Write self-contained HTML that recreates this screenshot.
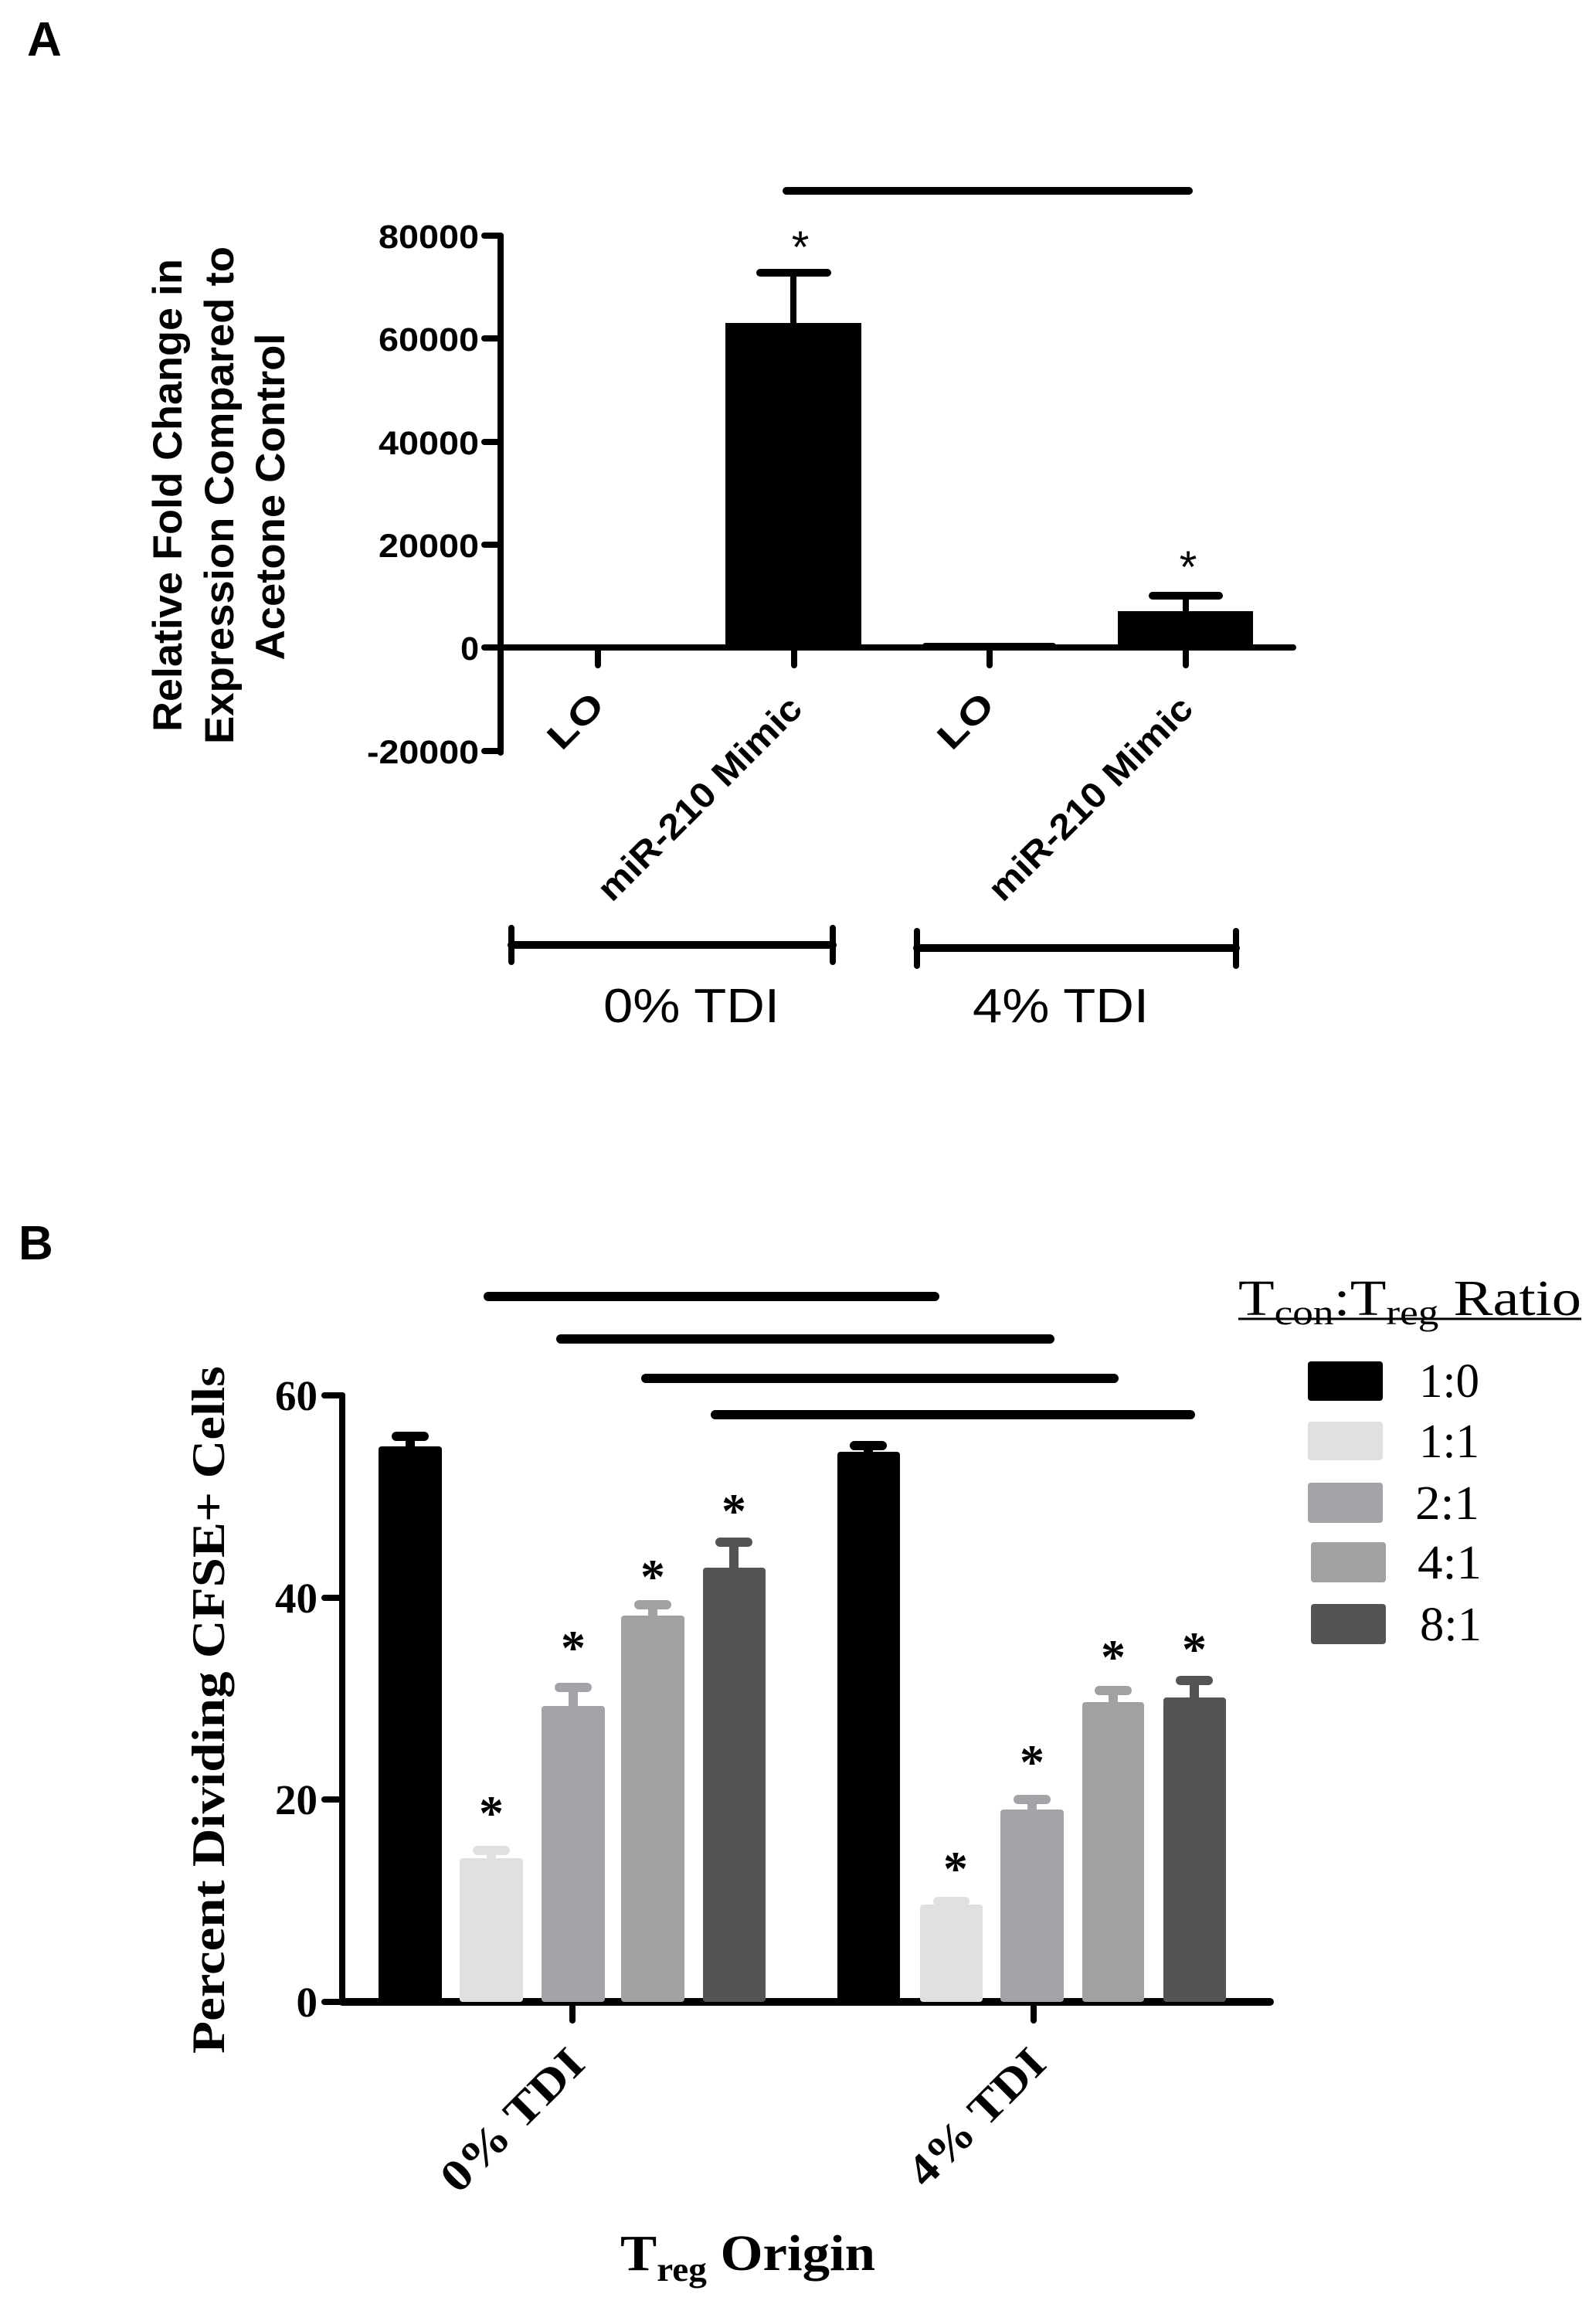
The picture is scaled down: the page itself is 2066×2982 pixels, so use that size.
<!DOCTYPE html>
<html><head><meta charset="utf-8"><style>
html,body{margin:0;padding:0;background:#fff;}
svg{display:block;}
.a{font-family:"Liberation Sans",Arial,sans-serif;font-weight:bold;}
.s{font-family:"Liberation Serif","Times New Roman",serif;}
</style></head><body>
<svg width="2066" height="2982" viewBox="0 0 2066 2982" xmlns="http://www.w3.org/2000/svg">
<rect width="2066" height="2982" fill="#fff"/>
<!-- Panel A -->
<text x="35" y="72" class="a" font-size="62">A</text>
<g class="a" font-size="53" text-anchor="middle">
<text transform="translate(235,641) rotate(-90)" textLength="612" lengthAdjust="spacingAndGlyphs">Relative Fold Change in</text>
<text transform="translate(302,641) rotate(-90)" textLength="644" lengthAdjust="spacingAndGlyphs">Expression Compared to</text>
<text transform="translate(368,643) rotate(-90)" textLength="423" lengthAdjust="spacingAndGlyphs">Acetone Control</text>
</g>
<g stroke="#000" stroke-width="8" fill="none" stroke-linecap="round">
<line x1="648" y1="305" x2="648" y2="974"/>
<line x1="627" y1="305" x2="648" y2="305"/>
<line x1="627" y1="438" x2="648" y2="438"/>
<line x1="627" y1="572" x2="648" y2="572"/>
<line x1="627" y1="705" x2="648" y2="705"/>
<line x1="627" y1="838" x2="648" y2="838"/>
<line x1="627" y1="972" x2="648" y2="972"/>
<line x1="648" y1="838" x2="1674" y2="838"/>
<line x1="774" y1="838" x2="774" y2="861"/>
<line x1="1028" y1="838" x2="1028" y2="861"/>
<line x1="1281" y1="838" x2="1281" y2="861"/>
<line x1="1535" y1="838" x2="1535" y2="861"/>
<line x1="1018" y1="247" x2="1539" y2="247" stroke-width="10"/>
<line x1="1027" y1="418" x2="1027" y2="355"/>
<line x1="984" y1="353" x2="1071" y2="353" stroke-width="10"/>
<line x1="1535" y1="791" x2="1535" y2="772"/>
<line x1="1492" y1="771" x2="1578" y2="771" stroke-width="10"/>
<line x1="662" y1="1223" x2="1078" y2="1223" stroke-width="10"/>
<line x1="662" y1="1201" x2="662" y2="1245"/>
<line x1="1078" y1="1201" x2="1078" y2="1245"/>
<line x1="1187" y1="1227" x2="1600" y2="1227" stroke-width="10"/>
<line x1="1187" y1="1205" x2="1187" y2="1250"/>
<line x1="1600" y1="1205" x2="1600" y2="1250"/>
</g>
<rect x="939" y="418" width="176" height="424" fill="#000"/>
<rect x="1194" y="832" width="173" height="10" rx="4" fill="#000"/>
<rect x="1447" y="791" width="175" height="51" fill="#000"/>
<g class="a" font-size="43" text-anchor="end">
<text x="620" y="321" textLength="130" lengthAdjust="spacingAndGlyphs">80000</text>
<text x="620" y="454" textLength="130" lengthAdjust="spacingAndGlyphs">60000</text>
<text x="620" y="588" textLength="130" lengthAdjust="spacingAndGlyphs">40000</text>
<text x="620" y="721" textLength="130" lengthAdjust="spacingAndGlyphs">20000</text>
<text x="620" y="854">0</text>
<text x="620" y="988" textLength="145" lengthAdjust="spacingAndGlyphs">-20000</text>
</g>
<g font-family="Liberation Sans, Arial, sans-serif" font-size="58" text-anchor="middle">
<text x="1036" y="340">*</text>
<text x="1538" y="754">*</text>
</g>
<g class="a" font-size="46" text-anchor="end">
<text transform="translate(785,915) rotate(-45)" textLength="82" lengthAdjust="spacingAndGlyphs">LO</text>
<text transform="translate(1041,920) rotate(-45)" textLength="352" lengthAdjust="spacingAndGlyphs">miR-210 Mimic</text>
<text transform="translate(1290,915) rotate(-45)" textLength="82" lengthAdjust="spacingAndGlyphs">LO</text>
<text transform="translate(1547,920) rotate(-45)" textLength="352" lengthAdjust="spacingAndGlyphs">miR-210 Mimic</text>
</g>
<g font-family="Liberation Sans, Arial, sans-serif" font-size="62">
<text x="781" y="1323" textLength="228" lengthAdjust="spacingAndGlyphs">0%  TDI</text>
<text x="1259" y="1323" textLength="228" lengthAdjust="spacingAndGlyphs">4%  TDI</text>
</g>

<!-- Panel B -->
<text x="24" y="1630" class="a" font-size="62">B</text>
<text transform="translate(290,2213) rotate(-90)" class="s" font-weight="bold" font-size="60" text-anchor="middle" textLength="890" lengthAdjust="spacingAndGlyphs">Percent Dividing CFSE+ Cells</text>
<g stroke="#000" stroke-width="8" stroke-linecap="round" fill="none">
<line x1="443" y1="1806" x2="443" y2="2591"/>
<line x1="420" y1="1806" x2="443" y2="1806"/>
<line x1="420" y1="2068" x2="443" y2="2068"/>
<line x1="420" y1="2329" x2="443" y2="2329"/>
<line x1="420" y1="2591" x2="443" y2="2591"/>
<line x1="443" y1="2591" x2="1644" y2="2591" stroke-width="10"/>
<line x1="741" y1="2591" x2="741" y2="2615"/>
<line x1="1338" y1="2591" x2="1338" y2="2615"/>
<line x1="632" y1="1678" x2="1210" y2="1678" stroke-width="12"/>
<line x1="726" y1="1733" x2="1359" y2="1733" stroke-width="12"/>
<line x1="836" y1="1784" x2="1442" y2="1784" stroke-width="12"/>
<line x1="926" y1="1831" x2="1541" y2="1831" stroke-width="12"/>
</g>
<g class="s" font-weight="bold" font-size="55" text-anchor="end">
<text x="411" y="1825">60</text>
<text x="411" y="2087">40</text>
<text x="411" y="2348">20</text>
<text x="411" y="2610">0</text>
</g>
<g stroke-linecap="round" stroke-width="12">
<rect x="490" y="1872" width="82" height="719" rx="4" fill="#000"/>
<line x1="531" y1="1872" x2="531" y2="1859" stroke="#000"/><line x1="513" y1="1859" x2="549" y2="1859" stroke="#000"/>
<rect x="595" y="2405" width="82" height="186" rx="4" fill="#e0e0e0"/>
<line x1="636" y1="2405" x2="636" y2="2395" stroke="#e0e0e0"/><line x1="618" y1="2395" x2="654" y2="2395" stroke="#e0e0e0"/>
<rect x="701" y="2208" width="82" height="383" rx="4" fill="#a3a4a8"/>
<line x1="742" y1="2208" x2="742" y2="2184" stroke="#a3a4a8"/><line x1="724" y1="2184" x2="760" y2="2184" stroke="#a3a4a8"/>
<rect x="804" y="2091" width="82" height="500" rx="4" fill="#a1a1a1"/>
<line x1="845" y1="2091" x2="845" y2="2077" stroke="#a1a1a1"/><line x1="827" y1="2077" x2="863" y2="2077" stroke="#a1a1a1"/>
<rect x="910" y="2029" width="81" height="562" rx="4" fill="#545454"/>
<line x1="950" y1="2029" x2="950" y2="1996" stroke="#545454"/><line x1="932" y1="1996" x2="968" y2="1996" stroke="#545454"/>
<rect x="1084" y="1879" width="81" height="712" rx="4" fill="#000"/>
<line x1="1124" y1="1879" x2="1124" y2="1871" stroke="#000"/><line x1="1106" y1="1871" x2="1142" y2="1871" stroke="#000"/>
<rect x="1191" y="2465" width="81" height="126" rx="4" fill="#e0e0e0"/>
<line x1="1214" y1="2461" x2="1249" y2="2461" stroke="#e0e0e0"/>
<rect x="1295" y="2342" width="82" height="249" rx="4" fill="#a3a4a8"/>
<line x1="1336" y1="2342" x2="1336" y2="2329" stroke="#a3a4a8"/><line x1="1318" y1="2329" x2="1354" y2="2329" stroke="#a3a4a8"/>
<rect x="1401" y="2203" width="80" height="388" rx="4" fill="#a1a1a1"/>
<line x1="1441" y1="2203" x2="1441" y2="2188" stroke="#a1a1a1"/><line x1="1423" y1="2188" x2="1459" y2="2188" stroke="#a1a1a1"/>
<rect x="1506" y="2197" width="81" height="394" rx="4" fill="#545454"/>
<line x1="1546" y1="2197" x2="1546" y2="2175" stroke="#545454"/><line x1="1528" y1="2175" x2="1564" y2="2175" stroke="#545454"/>
</g>
<g class="s" font-weight="bold" font-size="64" text-anchor="middle">
<text x="636" y="2368">*</text>
<text x="742" y="2154">*</text>
<text x="845" y="2062">*</text>
<text x="950" y="1977">*</text>
<text x="1237" y="2440">*</text>
<text x="1336" y="2302">*</text>
<text x="1441" y="2166">*</text>
<text x="1546" y="2156">*</text>
</g>
<g class="s" font-weight="bold" font-size="58" text-anchor="end">
<text transform="translate(760,2674) rotate(-45)" textLength="236" lengthAdjust="spacingAndGlyphs">0% TDI</text>
<text transform="translate(1357,2674) rotate(-45)" textLength="225" lengthAdjust="spacingAndGlyphs">4% TDI</text>
</g>
<text x="803" y="2938" class="s" font-weight="bold" font-size="66" textLength="330" lengthAdjust="spacingAndGlyphs">T<tspan font-size="44" dy="14">reg</tspan><tspan dy="-14"> Origin</tspan></text>
<text x="1603" y="1702" class="s" font-size="66" textLength="444" lengthAdjust="spacingAndGlyphs">T<tspan font-size="46" dy="12">con</tspan><tspan dy="-12">:T</tspan><tspan font-size="46" dy="12">reg</tspan><tspan dy="-12"> Ratio</tspan></text>
<line x1="1603" y1="1707" x2="2047" y2="1707" stroke="#000" stroke-width="3"/>
<rect x="1693" y="1762" width="97" height="51" rx="4" fill="#000"/>
<rect x="1693" y="1840" width="97" height="50" rx="4" fill="#e0e0e0"/>
<rect x="1693" y="1919" width="97" height="52" rx="4" fill="#a3a4a8"/>
<rect x="1697" y="1996" width="97" height="52" rx="4" fill="#a1a1a1"/>
<rect x="1697" y="2076" width="97" height="52" rx="4" fill="#545454"/>
<g class="s" font-size="62">
<text x="1837" y="1808" textLength="78" lengthAdjust="spacingAndGlyphs">1:0</text>
<text x="1837" y="1886" textLength="78" lengthAdjust="spacingAndGlyphs">1:1</text>
<text x="1832" y="1966" textLength="83" lengthAdjust="spacingAndGlyphs">2:1</text>
<text x="1835" y="2043" textLength="83" lengthAdjust="spacingAndGlyphs">4:1</text>
<text x="1838" y="2123" textLength="80" lengthAdjust="spacingAndGlyphs">8:1</text>
</g>
</svg>
</body></html>
